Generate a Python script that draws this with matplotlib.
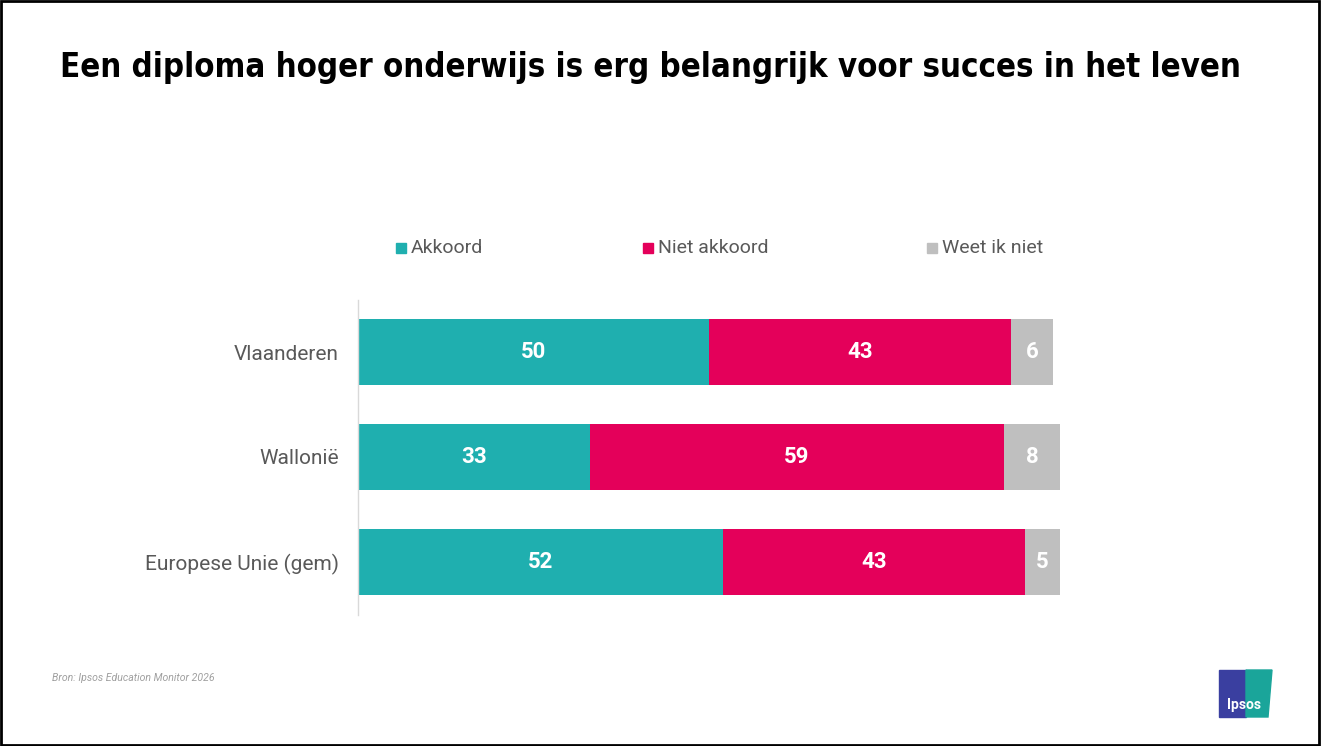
import matplotlib
matplotlib.use("Agg")
import matplotlib.pyplot as plt
from matplotlib.patches import Rectangle, Polygon
from matplotlib import font_manager as fm

categories = ["Vlaanderen", "Wallonië", "Europese Unie (gem)"]
akkoord = [50, 33, 52]
niet_akkoord = [43, 59, 43]
weet_niet = [6, 8, 5]
series_names = ["Akkoord", "Niet akkoord", "Weet ik niet"]
colors = ["#1FAFAF", "#E4005A", "#BFBFBF"]
title = "Een diploma hoger onderwijs is erg belangrijk voor succes in het leven"
source = "Bron: Ipsos Education Monitor 2026"

W, H = 1322, 746
fig = plt.figure(figsize=(W / 100, H / 100), dpi=100)
fig.patch.set_facecolor("white")
plt.rcParams["font.family"] = ["Roboto", "DejaVu Sans"]

# border
fig.add_artist(Rectangle((0.001, 0.002), 0.997, 0.996, transform=fig.transFigure,
                         fill=False, edgecolor="black", linewidth=2))

# condensed bold font if available
cond = [f for f in fm.fontManager.ttflist if "Condensed" in f.fname and "Bold" in f.fname
        and "Oblique" not in f.fname and "Italic" not in f.fname]
if cond:
    tfp = fm.FontProperties(fname=cond[0].fname, size=29)
else:
    tfp = fm.FontProperties(family="DejaVu Sans", weight="bold", size=29)
t = fig.text(60 / W, 1 - 68 / H, title, ha="left", va="center", fontproperties=tfp, color="black")
fig.canvas.draw()
wpx = t.get_window_extent().width
tfp.set_size(29 * 1178 / wpx)
t.set_fontproperties(tfp)

ax = fig.add_axes([358 / W, 1 - 614.5 / H, 702 / W, 315 / H])
ypos = [2, 1, 0]
left = [0] * 3
for vals, c in zip([akkoord, niet_akkoord, weet_niet], colors):
    ax.barh(ypos, vals, left=left, height=0.62, color=c, edgecolor="none")
    for y, v, l in zip(ypos, vals, left):
        ax.text(l + v / 2, y, str(v), ha="center", va="center", color="white",
                fontsize=16, fontweight="bold")
    left = [a + b for a, b in zip(left, vals)]

ax.set_xlim(0, 100)
ax.set_ylim(-0.5, 2.5)
ax.set_yticks(ypos)
ax.set_yticklabels(categories, fontsize=15, color="#595959")
ax.tick_params(axis="y", length=0, pad=14)
ax.set_xticks([])
for s in ["top", "right", "bottom"]:
    ax.spines[s].set_visible(False)
ax.spines["left"].set_color("#D9D9D9")
ax.spines["left"].set_linewidth(1)

# legend
leg_x = [401, 648, 932]
for x, name, c in zip(leg_x, series_names, colors):
    fig.add_artist(Rectangle(((x - 5) / W, 1 - 253 / H), 10 / W, 10 / H,
                             transform=fig.transFigure, color=c))
    fig.text((x + 10) / W, 1 - 248 / H, name, ha="left", va="center",
             fontsize=14, color="#595959")

fig.text(52 / W, 1 - 678 / H, source, ha="left", va="center",
         fontsize=7.6, style="italic", color="#A0A0A0")

# Ipsos logo
lx0, lx1, ly0, ly1 = 1219, 1272, 670, 717
fig.add_artist(Polygon([(lx0 / W, 1 - ly0 / H), (1246 / W, 1 - ly0 / H), (1246 / W, 1 - ly1 / H),
                        (lx0 / W, 1 - ly1 / H)], closed=True, transform=fig.transFigure,
                       color="#3A3FA0"))
fig.add_artist(Polygon([(1246 / W, 1 - ly0 / H), (lx1 / W, 1 - ly0 / H), (1268 / W, 1 - ly1 / H),
                        (1246 / W, 1 - ly1 / H)], closed=True, transform=fig.transFigure,
                       color="#1AA59A"))
fig.text(1244 / W, 1 - 705 / H, "Ipsos", ha="center", va="center", fontsize=10,
         fontweight="bold", color="white")

fig.savefig("out.png", dpi=100)
